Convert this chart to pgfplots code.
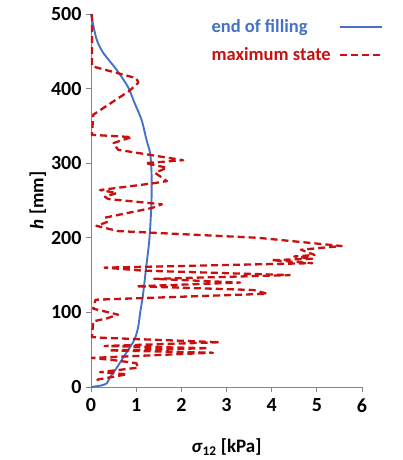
\documentclass[border=0pt]{standalone}
\usepackage{pgfplots}
\pgfplotsset{compat=1.18}
\usepackage{fontspec}
\setmainfont{Carlito}
\definecolor{fillblue}{RGB}{68,114,196}
\definecolor{maxred}{RGB}{200,16,16}
\definecolor{axgray}{RGB}{134,134,134}
\begin{document}
\begin{tikzpicture}
\useasboundingbox (-91pt,-73pt) rectangle (312pt,387pt);
\begin{axis}[
  at={(0,0)}, anchor=south west,
  scale only axis, width=271pt, height=373pt,
  xmin=0, xmax=6, ymin=0, ymax=500,
  axis x line*=bottom, axis y line*=left,
  axis line style={-, draw=axgray, line width=0.8pt},
  xtick={0,1,...,6}, ytick={0,100,...,500},
  tick align=outside, major tick length=5pt,
  tick style={draw=axgray, line width=0.8pt},
  tick label style={font=\bfseries\fontsize{20}{20}\selectfont},
  xticklabel style={yshift=-3pt},
  yticklabel style={xshift=-1pt},
  /pgf/number format/assume math mode=true,
  xlabel={\textit{σ}\textsubscript{12} [kPa]},
  ylabel={\textit{h} [mm]},
  label style={font=\bfseries\fontsize{19}{19}\selectfont},
  xlabel style={at={(axis description cs:0.5,-0.161)}, anchor=center},
  ylabel style={at={(axis description cs:-0.196,0.5)}, anchor=center},
  legend plot pos=right, legend cell align=left,
  legend style={at={(axis description cs:0.437,0.99)}, anchor=north west,
    draw=none, fill=none, font=\bfseries\fontsize{18.5}{18.5}\selectfont,
    row sep=9pt, inner sep=0pt,
    /tikz/every odd column/.append style={column sep=6pt}},
  legend image code/.code={\draw[#1] (0pt,0pt) -- (42pt,0pt);},
  clip=false,
]
\addplot[fillblue, line width=1.9pt, smooth] coordinates {
  (0.00,500) (0.05,485) (0.13,465) (0.27,448) (0.57,425) (0.82,402)
  (0.97,380) (1.12,358) (1.23,331) (1.31,313) (1.34,287) (1.34,251)
  (1.31,213) (1.28,190) (1.22,160) (1.15,123) (1.09,100) (1.04,79)
  (0.95,62) (0.75,43) (0.55,24) (0.42,13) (0.35,5) (0.22,2) (0.00,0)
};
\addlegendentry{\textcolor{fillblue}{end of filling}}
\addplot[maxred, line width=2.3pt, dash pattern=on 7pt off 4pt, line join=round] coordinates {
  (0.02,500) (0.02,430) (1.00,414) (1.05,408) (0.85,397) (0.05,365)
  (0.02,338) (0.90,335) (0.50,327) (0.60,318) (2.04,304) (1.20,300)
  (1.68,294) (1.42,287) (1.68,276) (1.37,273) (0.20,264) (0.57,260)
  (0.31,255) (0.38,252) (1.57,245) (1.35,240) (0.31,227) (0.35,221)
  (0.12,216) (0.60,209) (3.70,200) (5.55,189) (4.65,184) (4.95,177)
  (4.50,175) (4.90,172) (4.00,170) (4.90,166) (0.30,160) (1.15,156)
  (4.40,150) (1.40,145) (3.30,140) (1.00,135) (3.60,130) (3.90,125)
  (0.10,117) (0.05,105) (0.60,97) (0.35,92) (0.05,88) (0.02,67)
  (0.25,66) (2.85,60) (0.30,55) (2.60,52) (0.40,49) (2.70,46)
  (0.02,39) (0.50,36) (1.00,32) (1.05,26) (0.50,22) (0.20,20)
  (0.80,17) (0.15,10) (0.10,5)
};
\addlegendentry{\textcolor{maxred}{maximum state}}
\end{axis}
\end{tikzpicture}
\end{document}
